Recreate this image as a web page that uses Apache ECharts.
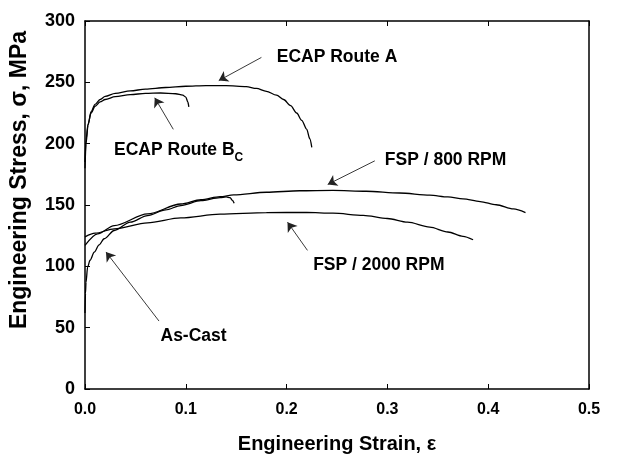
<!DOCTYPE html>
<html><head><meta charset="utf-8">
<script src="https://cdn.jsdelivr.net/npm/echarts@6/dist/echarts.min.js"></script>
<style>html,body{margin:0;padding:0;background:#fff}#c{width:630px;height:459px}</style>
</head><body><div id="c"></div>
<script>
// Engineering strain / stress curves (strain, MPa)
const ecapA = [[0,180],[0.001,200],[0.003,215],[0.006,226],[0.01,232],[0.015,236],[0.02,238.5],[0.03,241],[0.045,243],[0.06,244.5],[0.08,245.8],[0.1,246.8],[0.12,247.3],[0.14,247.3],[0.16,246.5],[0.17,245],[0.18,242.7],[0.19,239.5],[0.197,236],[0.204,231],[0.21,225],[0.215,219],[0.22,211.7],[0.223,204],[0.225,197]];
const ecapBc = [[0,185],[0.001,203],[0.003,216],[0.006,225],[0.01,230.5],[0.015,234],[0.02,236],[0.03,238.3],[0.045,240],[0.06,241],[0.075,241.3],[0.09,240.7],[0.097,239.5],[0.1,238],[0.102,234],[0.103,230]];
const fsp800 = [[0,117],[0.0125,126.5],[0.029,133.2],[0.062,142.7],[0.095,150.8],[0.115,154.3],[0.134,156.8],[0.1475,158.2],[0.18,160.4],[0.213,161.6],[0.246,161.9],[0.279,161.2],[0.312,159.8],[0.342,158.0],[0.36,156.6],[0.375,155.0],[0.392,152.8],[0.408,150.2],[0.425,146.8],[0.437,143.8]];
const fsp2000 = [[0,124],[0.01,127],[0.029,130.6],[0.062,135.5],[0.095,139.5],[0.134,142.5],[0.18,143.8],[0.22,144],[0.246,143.3],[0.276,141.5],[0.3,139],[0.32,136],[0.342,132],[0.36,128],[0.375,124.5],[0.385,121.7]];
const asCast = [[0,62],[0.0005,78],[0.001,87],[0.0026,99.5],[0.005,105],[0.0092,111.6],[0.014,117.5],[0.019,122.5],[0.029,129.2],[0.045,136],[0.062,141.4],[0.08,146],[0.095,149.5],[0.115,153.5],[0.134,156],[0.14,156.6],[0.144,156],[0.146,154],[0.148,151.5]];

// annotation texts and arrows (data coordinates)
const labelTexts = ['{a|ECAP Route A}', '{a|ECAP Route B}{b|C}', '{a|FSP / 800 RPM}', '{a|FSP / 2000 RPM}', '{a|As-Cast}'];
const labelPos = [[0.25,271.7],[0.0929,195.5],[0.3577,187.5],[0.2915,101.4],[0.1077,44]];
const arrows = [
  [[0.175,270.3],[0.1327,251.4]],
  [[0.0876,211.7],[0.0692,237.4]],
  [[0.2875,186],[0.2408,166.8]],
  [[0.2207,113],[0.2009,136]],
  [[0.0734,55.4],[0.0208,111.7]]
];

const FONT = 'Liberation Sans, Arial, Helvetica, sans-serif';
const chart = echarts.init(document.getElementById('c'));
const curve = (name, data) => ({
  name, type: 'line', data, showSymbol: false, smooth: 0.3, smoothMonotone: 'x',
  lineStyle: {color: '#000', width: 1.3}, itemStyle: {color: '#000'}, z: 3
});
chart.setOption({
  animation: false,
  backgroundColor: '#fff',
  grid: {left: 84, right: 41, top: 21, bottom: 68},
  xAxis: [{
    type: 'value', min: 0, max: 0.5, interval: 0.1,
    name: 'Engineering Strain, ε', nameLocation: 'middle', nameGap: 45,
    nameTextStyle: {fontFamily: FONT, fontWeight: 'bold', fontSize: 20, color: '#000'},
    axisLine: {lineStyle: {color: '#000', width: 1.5}},
    axisTick: {inside: true, length: 5, lineStyle: {color: '#000'}},
    axisLabel: {formatter: v => v.toFixed(1), fontFamily: FONT, fontWeight: 'bold', fontSize: 16, color: '#000', margin: 13},
    splitLine: {show: false}
  }, {
    type: 'value', min: 0, max: 0.5, interval: 0.1, position: 'top',
    axisLine: {onZero: false, lineStyle: {color: '#000', width: 1.5}},
    axisTick: {inside: true, length: 5, lineStyle: {color: '#000'}},
    axisLabel: {show: false}, splitLine: {show: false}
  }],
  yAxis: [{
    type: 'value', min: 0, max: 300, interval: 50,
    name: 'Engineering Stress, σ, MPa', nameLocation: 'middle', nameGap: 54,
    nameTextStyle: {fontFamily: FONT, fontWeight: 'bold', fontSize: 23, color: '#000', padding: [0, 0, 0, 50]},
    axisLine: {show: true, lineStyle: {color: '#000', width: 1.5}},
    axisTick: {show: true, inside: true, length: 5, lineStyle: {color: '#000'}},
    axisLabel: {fontFamily: FONT, fontWeight: 'bold', fontSize: 18, color: '#000', margin: 10},
    splitLine: {show: false}
  }, {
    type: 'value', min: 0, max: 300, interval: 50, position: 'right',
    axisLine: {show: true, onZero: false, lineStyle: {color: '#000', width: 1.5}},
    axisTick: {show: false}, axisLabel: {show: false}, splitLine: {show: false}
  }],
  series: [
    curve('ECAP Route A', ecapA),
    curve('ECAP Route Bc', ecapBc),
    curve('FSP / 800 RPM', fsp800),
    curve('FSP / 2000 RPM', fsp2000),
    curve('As-Cast', asCast),
    {
      type: 'lines', coordinateSystem: 'cartesian2d', polyline: false,
      symbol: ['none', 'arrow'], symbolSize: [0, 9],
      lineStyle: {color: '#222', width: 0.9, opacity: 1},
      data: arrows.map(c => ({coords: c})), z: 4
    },
    {
      type: 'scatter', symbolSize: 0, silent: true, z: 5,
      itemStyle: {opacity: 1},
      data: labelPos.map((p, i) => ({value: p, label: {formatter: labelTexts[i]}})),
      label: {
        show: true, position: 'inside', color: '#000', opacity: 1,
        rich: {
          a: {fontFamily: FONT, fontWeight: 'bold', fontSize: 17.5, color: '#000', verticalAlign: 'bottom', lineHeight: 20},
          b: {fontFamily: FONT, fontWeight: 'bold', fontSize: 12, color: '#000', verticalAlign: 'bottom', lineHeight: 14, padding: [0,0,-5,0]}
        }
      }
    }
  ]
});
</script></body></html>
